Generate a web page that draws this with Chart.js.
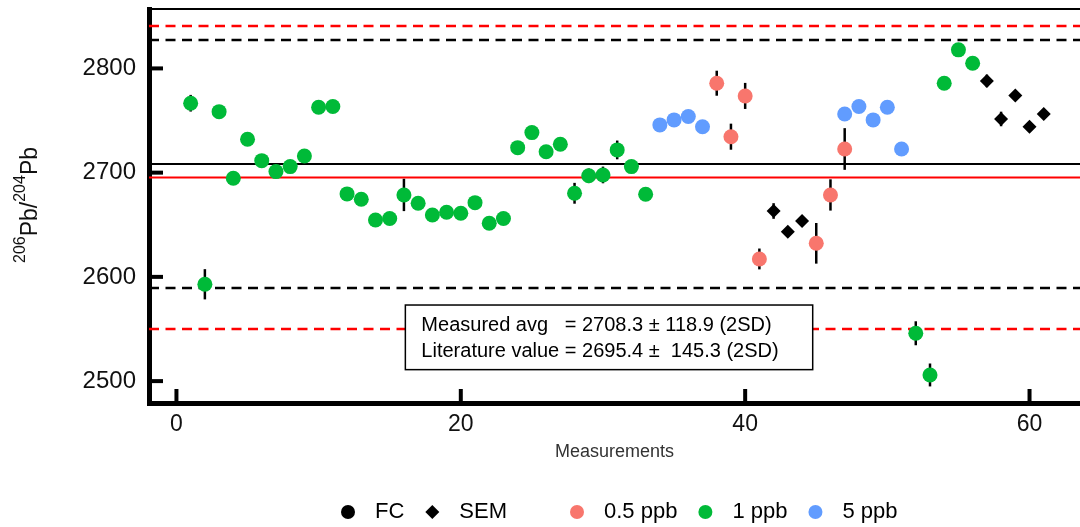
<!DOCTYPE html>
<html>
<head>
<meta charset="utf-8">
<script src="https://cdn.jsdelivr.net/npm/chart.js@4.4.0/dist/chart.umd.min.js"></script>
<style>
  html, body { margin: 0; padding: 0; background: #fff; }
  #wrap { width: 1080px; height: 527px; }
</style>
</head>
<body>
<div id="wrap"><canvas id="ratio" width="1080" height="527"></canvas></div>
<script>
// 206Pb/204Pb ratio per measurement, grouped by concentration / detector
const xTicks = [0, 20, 40, 60];
const yTicks = [2500, 2600, 2700, 2800];

// 0.5 ppb (Faraday cups)
const ppb05X   = [38, 39, 40, 41, 45, 46, 47];
const ppb05Y   = [2785.8, 2734.5, 2773.6, 2617.2, 2632.2, 2678.6, 2722.7];
const ppb05Err = [12, 12.5, 12.5, 10, 19.5, 15, 20];

// 1 ppb (Faraday cups)
const ppb1X = [1, 2, 3, 4, 5, 6, 7, 8, 9, 10, 11, 12, 13, 14, 15, 16, 17,
               18, 19, 20, 21, 22, 23, 24, 25, 26, 27, 28, 29, 30, 31, 32, 33,
               52, 53, 54, 55, 56];
const ppb1Y = [2766.6, 2592.9, 2758.5, 2694.6, 2732.0, 2711.5, 2701.0, 2705.8,
               2716.0, 2762.8, 2763.4, 2679.6, 2674.5, 2654.6, 2656.0, 2678.6,
               2670.6, 2659.4, 2662.0, 2661.0, 2671.2, 2651.4, 2656.0, 2724.0,
               2738.4, 2720.0, 2727.2, 2680.2, 2697.0, 2697.8, 2721.8, 2705.8,
               2679.3, 2545.9, 2505.9, 2785.8, 2817.8, 2805.0];
const ppb1Err = [8, 14.5, 3, 5, 3, 3, 3, 3, 3, 3, 3, 3, 3, 3, 3, 15.5, 3,
                 3, 3, 3, 3, 3, 3, 3, 3, 3, 3, 10, 7, 8, 9, 3, 3,
                 11.5, 11, 6, 3, 3];

// 5 ppb (Faraday cups)
const ppb5X   = [34, 35, 36, 37, 47, 48, 49, 50, 51];
const ppb5Y   = [2745.8, 2750.6, 2753.8, 2744.1, 2756.3, 2763.4, 2750.6, 2762.8, 2722.7];
const ppb5Err = [3, 3, 3, 3, 3, 3, 3, 3, 3];

// secondary electron multiplier
const semX   = [42, 43, 44, 57, 58, 59, 60, 61];
const semY   = [2663.2, 2643.4, 2653.6, 2788.0, 2751.5, 2773.9, 2744.1, 2756.3];
const semErr = [7.5, 4, 4, 6, 7, 4, 4, 4];

// averages (±2SD)
const measuredAvg = 2708.3;
const measuredSD2 = 118.9;
const literatureValue = 2695.4;
const literatureSD2 = 145.3;

const FONT = "'Liberation Sans', Arial, sans-serif";

function toPoints(xs, ys, errs) {
    return xs.map((x, i) => ({ x: x, y: ys[i], err: errs[i] }));
}

// summary box placed in data units
const noteBox = { x0: 16.1, x1: 44.75, yTop: 2573, yBottom: 2511 };

const legendItems = [
    { label: 'FC', style: 'circle', color: '#000', gap: 21 },
    { label: 'SEM', style: 'diamond', color: '#000', gap: 63 },
    { label: '0.5 ppb', style: 'circle', color: '#F8766D', gap: 21 },
    { label: '1 ppb', style: 'circle', color: '#00BA38', gap: 21 },
    { label: '5 ppb', style: 'circle', color: '#619CFF', gap: 0 }
];

function hLine(ctx, area, py, color, width, dash) {
    ctx.save();
    ctx.strokeStyle = color;
    ctx.lineWidth = width;
    ctx.setLineDash(dash || []);
    ctx.beginPath();
    ctx.moveTo(area.left, py);
    ctx.lineTo(area.right, py);
    ctx.stroke();
    ctx.restore();
}

// mean / literature lines with their 2SD envelopes
const refLines = {
    id: 'refLines',
    beforeDatasetsDraw(chart) {
        const { ctx, chartArea, scales: { y } } = chart;
        const dash = [10, 6.5];
        hLine(ctx, chartArea, y.getPixelForValue(literatureValue + literatureSD2), '#ff0000', 2.5, dash);
        hLine(ctx, chartArea, y.getPixelForValue(literatureValue - literatureSD2), '#ff0000', 2.5, dash);
        hLine(ctx, chartArea, y.getPixelForValue(measuredAvg + measuredSD2), '#000', 2.5, dash);
        hLine(ctx, chartArea, y.getPixelForValue(measuredAvg - measuredSD2), '#000', 2.5, dash);
        hLine(ctx, chartArea, y.getPixelForValue(measuredAvg), '#000', 2);
        hLine(ctx, chartArea, y.getPixelForValue(literatureValue), '#ff0000', 2);
    }
};

const errorBars = {
    id: 'errorBars',
    beforeDatasetsDraw(chart) {
        const { ctx, chartArea, scales: { x, y } } = chart;
        ctx.save();
        ctx.beginPath();
        ctx.rect(chartArea.left, chartArea.top, chartArea.right - chartArea.left, chartArea.bottom - chartArea.top);
        ctx.clip();
        ctx.strokeStyle = '#000';
        ctx.lineWidth = 2.5;
        chart.data.datasets.forEach(ds => {
            ds.data.forEach(p => {
                if (!p.err) return;
                const px = x.getPixelForValue(p.x);
                ctx.beginPath();
                ctx.moveTo(px, y.getPixelForValue(p.y - p.err));
                ctx.lineTo(px, y.getPixelForValue(p.y + p.err));
                ctx.stroke();
            });
        });
        ctx.restore();
    }
};

const summaryBox = {
    id: 'summaryBox',
    afterDatasetsDraw(chart) {
        const { ctx, scales: { x, y } } = chart;
        const left = x.getPixelForValue(noteBox.x0);
        const right = x.getPixelForValue(noteBox.x1);
        const top = y.getPixelForValue(noteBox.yTop);
        const bottom = y.getPixelForValue(noteBox.yBottom);
        ctx.save();
        ctx.fillStyle = '#fff';
        ctx.fillRect(left, top, right - left, bottom - top);
        ctx.strokeStyle = '#000';
        ctx.lineWidth = 1.5;
        ctx.strokeRect(left, top, right - left, bottom - top);
        ctx.fillStyle = '#000';
        ctx.font = '20px ' + FONT;
        ctx.textBaseline = 'middle';
        ctx.fillText('Measured avg   = ' + measuredAvg.toFixed(1) + ' \u00b1 ' + measuredSD2.toFixed(1) + ' (2SD)', left + 16, top + 20);
        ctx.fillText('Literature value = ' + literatureValue.toFixed(1) + ' \u00b1  ' + literatureSD2.toFixed(1) + ' (2SD)', left + 16, top + 46);
        ctx.restore();
    }
};

// inward tick marks, top frame line, y title with superscripts, legend
const frame = {
    id: 'frame',
    afterDraw(chart) {
        const { ctx, chartArea, scales: { x, y } } = chart;
        ctx.save();
        ctx.strokeStyle = '#000';
        ctx.lineWidth = 4;
        yTicks.forEach(v => {
            const py = y.getPixelForValue(v);
            ctx.beginPath();
            ctx.moveTo(chartArea.left, py);
            ctx.lineTo(chartArea.left + 14, py);
            ctx.stroke();
        });
        xTicks.forEach(v => {
            const px = x.getPixelForValue(v);
            ctx.beginPath();
            ctx.moveTo(px, chartArea.bottom);
            ctx.lineTo(px, chartArea.bottom - 14);
            ctx.stroke();
        });
        ctx.lineWidth = 2;
        ctx.beginPath();
        ctx.moveTo(chartArea.left, chartArea.top);
        ctx.lineTo(chartArea.right, chartArea.top);
        ctx.stroke();

        // 206Pb/204Pb, rotated
        const big = '23px ' + FONT;
        const small = '16px ' + FONT;
        const parts = [['206', small, -12], ['Pb/', big, 0], ['204', small, -12], ['Pb', big, 0]];
        let total = 0;
        parts.forEach(p => { ctx.font = p[1]; total += ctx.measureText(p[0]).width; });
        ctx.translate(37, 205 + total / 2);
        ctx.rotate(-Math.PI / 2);
        ctx.fillStyle = '#111';
        ctx.textBaseline = 'alphabetic';
        let cx = 0;
        parts.forEach(p => {
            ctx.font = p[1];
            ctx.fillText(p[0], cx, p[2]);
            cx += ctx.measureText(p[0]).width;
        });
        ctx.restore();

        // legend
        ctx.save();
        ctx.font = '22px ' + FONT;
        ctx.textBaseline = 'middle';
        const ly = 512;
        let cursor = 341;
        legendItems.forEach(item => {
            const mx = cursor + 7;
            ctx.fillStyle = item.color;
            ctx.beginPath();
            if (item.style === 'circle') {
                ctx.arc(mx, ly, 7, 0, Math.PI * 2);
            } else {
                ctx.moveTo(mx - 7, ly);
                ctx.lineTo(mx, ly - 7);
                ctx.lineTo(mx + 7, ly);
                ctx.lineTo(mx, ly + 7);
                ctx.closePath();
            }
            ctx.fill();
            ctx.fillStyle = '#000';
            const tx = cursor + 34;
            ctx.fillText(item.label, tx, ly);
            cursor = tx + ctx.measureText(item.label).width + item.gap;
        });
        ctx.restore();
    }
};

function series(label, xs, ys, errs, color, style, radius) {
    return {
        label: label,
        data: toPoints(xs, ys, errs),
        backgroundColor: color,
        borderWidth: 0,
        pointStyle: style,
        pointRadius: radius,
        pointHoverRadius: radius
    };
}

new Chart(document.getElementById('ratio'), {
    type: 'scatter',
    data: {
        datasets: [
            series('1 ppb', ppb1X, ppb1Y, ppb1Err, '#00BA38', 'circle', 7.5),
            series('5 ppb', ppb5X, ppb5Y, ppb5Err, '#619CFF', 'circle', 7.5),
            series('0.5 ppb', ppb05X, ppb05Y, ppb05Err, '#F8766D', 'circle', 7.5),
            series('SEM', semX, semY, semErr, '#000', 'rectRot', 7)
        ]
    },
    options: {
        responsive: false,
        devicePixelRatio: 1,
        animation: false,
        events: [],
        layout: { autoPadding: false, padding: { top: 9, bottom: 64, left: 0, right: 0 } },
        plugins: {
            legend: { display: false },
            tooltip: { enabled: false }
        },
        scales: {
            x: {
                type: 'linear',
                min: -1.93,
                max: 63.55,
                grid: { display: false, drawTicks: false },
                border: { display: true, width: 5, color: '#000' },
                afterBuildTicks: s => { s.ticks = xTicks.map(v => ({ value: v })); },
                afterFit: s => { s.height = 60; s.paddingLeft = 0; s.paddingRight = 0; },
                ticks: { color: '#111', font: { family: FONT, size: 23 }, padding: 8, maxRotation: 0,
                         callback: v => String(v) },
                title: { display: true, text: 'Measurements', color: '#333', font: { family: FONT, size: 18 }, padding: 0 }
            },
            y: {
                min: 2479,
                max: 2857,
                grid: { display: false, drawTicks: false },
                border: { display: true, width: 5, color: '#000' },
                afterBuildTicks: s => { s.ticks = yTicks.map(v => ({ value: v })); },
                afterFit: s => { s.width = 149; s.paddingTop = 0; s.paddingBottom = 0; },
                ticks: { color: '#111', font: { family: FONT, size: 24 }, padding: 13,
                         callback: v => String(v) }
            }
        }
    },
    plugins: [refLines, errorBars, summaryBox, frame]
});
</script>
</body>
</html>
